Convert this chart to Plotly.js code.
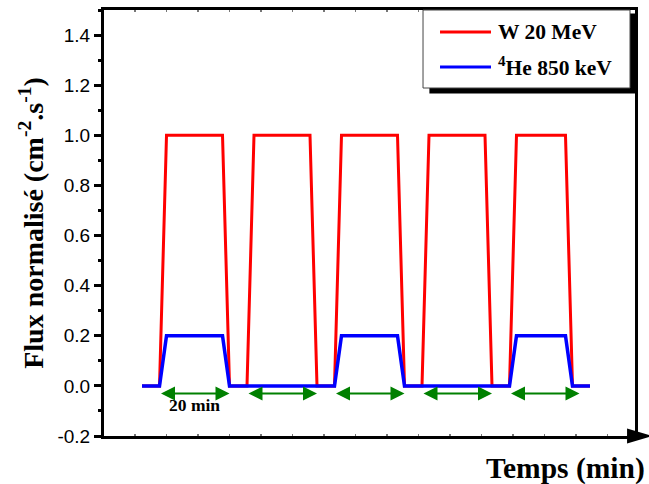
<!DOCTYPE html>
<html>
<head>
<meta charset="utf-8">
<script src="https://cdn.plot.ly/plotly-3.0.1.min.js"></script>
<style>html,body{margin:0;padding:0;background:#fff;}#chart{width:649px;height:484px;}</style>
</head>
<body>
<div id="chart"></div>
<script>
// Time (min) and normalised flux
const timeW = [0, 5, 7, 23, 25, 30, 32, 48, 50, 55, 57, 73, 75, 80, 82, 98, 100, 105, 107, 121, 123, 128];
const fluxW = [0, 0, 1, 1, 0, 0, 1, 1, 0, 0, 1, 1, 0, 0, 1, 1, 0, 0, 1, 1, 0, 0];
const timeHe = [0, 5, 7, 23, 25, 55, 57, 73, 75, 105, 107, 121, 123, 128];
const fluxHe = [0, 0, 0.2, 0.2, 0, 0, 0.2, 0.2, 0, 0, 0.2, 0.2, 0, 0];
const seriesNames = ['W 20 MeV', '<sup>4</sup>He 850 keV'];
const seriesColors = ['#ff0000', '#0000ff'];
// 20-min irradiation intervals (start, end)
const intervalStart = [5, 30, 55, 80, 105];
const intervalEnd = [25, 50, 75, 100, 125];
const intervalLabel = '20 min';
const yTicks = [-0.2, 0, 0.2, 0.4, 0.6, 0.8, 1.0, 1.2, 1.4];

const serif = 'Times New Roman, Liberation Serif, serif';
const sans = 'Arial, Liberation Sans, sans-serif';

const traces = [
  {x: timeW, y: fluxW, mode: 'lines', name: seriesNames[0], line: {color: seriesColors[0], width: 3}, showlegend: false},
  {x: timeHe, y: fluxHe, mode: 'lines', name: seriesNames[1], line: {color: seriesColors[1], width: 3.5}, showlegend: false}
];

const arrowY = -0.03;
const annotations = intervalStart.map((s, i) => ({
  x: intervalEnd[i], y: arrowY, ax: s, ay: arrowY, xref: 'x', yref: 'y', axref: 'x', ayref: 'y',
  text: '', showarrow: true, arrowside: 'end+start', arrowhead: 2, arrowsize: 1.4, arrowwidth: 2,
  arrowcolor: '#008000', standoff: 0, startstandoff: 0
}));
annotations.push({
  x: (intervalStart[0] + intervalEnd[0]) / 2, y: -0.078, xref: 'x', yref: 'y', text: intervalLabel,
  showarrow: false, font: {family: serif, size: 17.5, weight: 'bold', color: '#000'}
});
annotations.push({
  x: 1.0235, y: -0.033, xref: 'paper', yref: 'paper', xanchor: 'right', yanchor: 'top',
  text: 'Temps (min)', showarrow: false, font: {family: serif, size: 29.5, weight: 'bold', color: '#000'}
});

// manual legend (box with shadow)
const lx0 = 0.6008, lx1 = 0.9906, ly0 = 0.8169, ly1 = 1.0;
const rowY = [0.9484, 0.8662];
const shapes = [
  {type: 'rect', xref: 'paper', yref: 'paper', x0: lx0 + 0.012, x1: lx1 + 0.013, y0: ly0 - 0.013, y1: ly1 - 0.008, fillcolor: '#000', line: {width: 0}, layer: 'above'},
  {type: 'rect', xref: 'paper', yref: 'paper', x0: lx0, x1: lx1, y0: ly0, y1: ly1, fillcolor: '#fff', line: {color: '#444', width: 1}, layer: 'above'},
  // x-axis arrowhead
  {type: 'path', xref: 'paper', yref: 'paper', path: 'M 0.985 0.0175 L 1.032 0 L 0.985 -0.0175 Z', fillcolor: '#000', line: {width: 0}, layer: 'above'}
];
seriesNames.forEach((n, i) => {
  shapes.push({type: 'line', xref: 'paper', yref: 'paper', x0: 0.6328, x1: 0.7288, y0: rowY[i], y1: rowY[i], line: {color: seriesColors[i], width: 3}, layer: 'above'});
  annotations.push({x: 0.739, y: rowY[i], xref: 'paper', yref: 'paper', xanchor: 'left', yanchor: 'middle', text: n, showarrow: false,
    font: {family: serif, size: 21.5, weight: 'bold', color: '#000'}});
});

const layout = {
  width: 649, height: 484,
  margin: {l: 104, r: 14, t: 10, b: 48},
  paper_bgcolor: '#fff', plot_bgcolor: '#fff',
  showlegend: false,
  xaxis: {
    range: [-10.86, 140.86], showgrid: false, zeroline: false, showline: true, linewidth: 3, linecolor: '#000',
    mirror: 'ticks', ticks: 'inside', ticklen: 2, tickwidth: 1.5, tickcolor: '#777', tick0: 7, dtick: 9, showticklabels: false
  },
  yaxis: {
    range: [-0.2, 1.5], showgrid: false, zeroline: false, showline: true, linewidth: 3, linecolor: '#000', mirror: true,
    ticks: 'outside', ticklen: 7, tickwidth: 3, tickcolor: '#000', tickvals: yTicks, ticktext: yTicks.map(v => v.toFixed(1)),
    tickfont: {family: sans, size: 19, color: '#000'},
    minor: {ticks: 'outside', dtick: 0.1, tick0: 0, ticklen: 3, tickwidth: 3, tickcolor: '#000'},
    title: {text: 'Flux normalisé (cm<sup>-2</sup>.s<sup>-1</sup>)', standoff: 6, font: {family: serif, size: 28, weight: 'bold', color: '#000'}}
  },
  shapes: shapes,
  annotations: annotations
};

Plotly.newPlot('chart', traces, layout, {displayModeBar: false, staticPlot: true});
</script>
</body>
</html>
